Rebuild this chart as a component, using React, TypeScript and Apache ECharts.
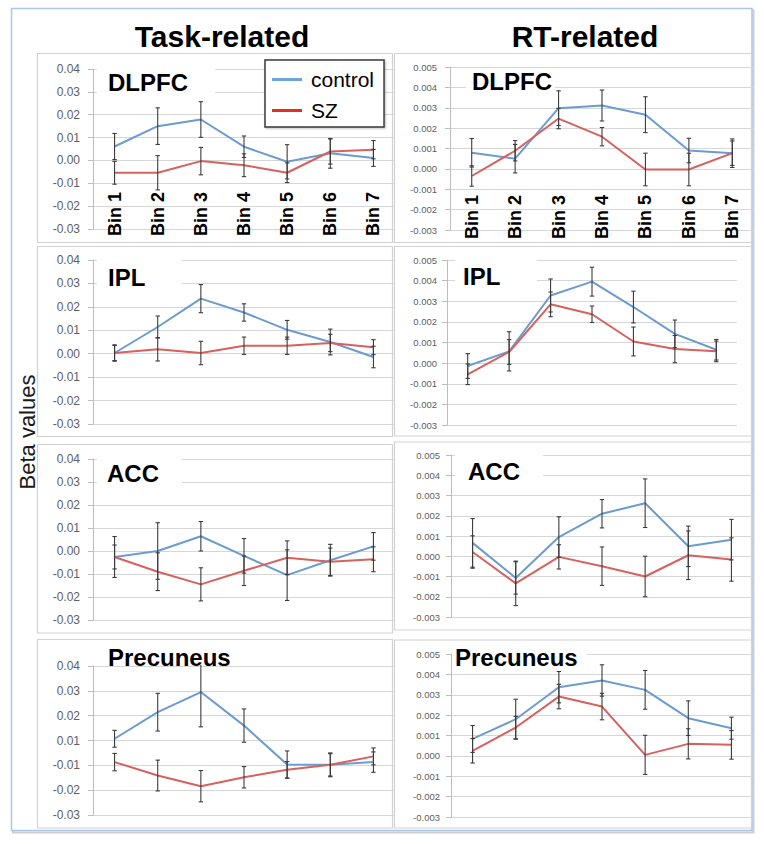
import React, { useEffect, useRef } from "react";
import * as echarts from "echarts";

// ---------- data ----------
const bins = ["Bin 1", "Bin 2", "Bin 3", "Bin 4", "Bin 5", "Bin 6", "Bin 7"];

// Task-related
const taskDlpfcControl = [0.0061, 0.015, 0.0179, 0.006, -0.0006, 0.0031, 0.0011];
const taskDlpfcControlErr = [0.0057, 0.008, 0.0078, 0.0047, 0.0075, 0.0065, 0.0037];
const taskDlpfcSZ = [-0.0054, -0.0054, -0.0003, -0.0021, -0.0054, 0.0039, 0.0047];
const taskDlpfcSZErr = [0.005, 0.0075, 0.006, 0.005, 0.0043, 0.0055, 0.004];

const taskIplControl = [0.0003, 0.0114, 0.0235, 0.0176, 0.0102, 0.005, -0.0014];
const taskIplControlErr = [0.0035, 0.0047, 0.006, 0.0037, 0.004, 0.0055, 0.0046];
const taskIplSZ = [0.0003, 0.0019, 0.0003, 0.0034, 0.0034, 0.0046, 0.0028];
const taskIplSZErr = [0.0032, 0.005, 0.005, 0.0037, 0.0037, 0.0037, 0.0032];

const taskAccControl = [-0.0026, 0.0, 0.0064, -0.0021, -0.0105, -0.004, 0.002];
const taskAccControlErr = [0.0089, 0.0123, 0.0064, 0.0075, 0.011, 0.0069, 0.006];
const taskAccSZ = [-0.0026, -0.009, -0.0145, -0.0086, -0.0029, -0.0047, -0.0036];
const taskAccSZErr = [0.0052, 0.0082, 0.0072, 0.0064, 0.0073, 0.006, 0.0054];

// Precuneus (task) values in axis units; its tick labels are printed as below
const taskPrecControl = [0.0007, 0.0114, 0.0195, 0.006, -0.0097, -0.0098, -0.0087];
const taskPrecControlErr = [0.0034, 0.0076, 0.014, 0.0067, 0.0055, 0.0048, 0.0041];
const taskPrecSZ = [-0.0087, -0.0141, -0.0184, -0.0148, -0.0118, -0.0098, -0.0064];
const taskPrecSZErr = [0.0035, 0.0062, 0.0063, 0.0043, 0.0033, 0.0045, 0.0034];
const taskPrecTickLabels = ["-0.03", "-0.02", "-0.01", "0.01", "0.02", "0.03", "0.04"];

// RT-related
const rtDlpfcControl = [0.00079, 0.0005, 0.00298, 0.00311, 0.00266, 0.0009, 0.00077];
const rtDlpfcControlErr = [0.0007, 0.0007, 0.00085, 0.00076, 0.00088, 0.0006, 0.0006];
const rtDlpfcSZ = [-0.00035, 0.00089, 0.00247, 0.00158, -0.00003, -0.00003, 0.00077];
const rtDlpfcSZErr = [0.0005, 0.0005, 0.0005, 0.00045, 0.0008, 0.0008, 0.0007];

const rtIplControl = [-0.00014, 0.00057, 0.00328, 0.00395, 0.00272, 0.00142, 0.00065];
const rtIplControlErr = [0.0006, 0.00095, 0.0008, 0.0007, 0.00077, 0.00067, 0.0005];
const rtIplSZ = [-0.00054, 0.00054, 0.00285, 0.00237, 0.00105, 0.00068, 0.00057];
const rtIplSZErr = [0.0005, 0.0006, 0.0006, 0.0004, 0.0007, 0.00066, 0.0005];

const rtAccControl = [0.00066, -0.00107, 0.00095, 0.0021, 0.00262, 0.00049, 0.00082];
const rtAccControlErr = [0.0012, 0.0008, 0.001, 0.0007, 0.0012, 0.001, 0.001];
const rtAccSZ = [0.00021, -0.00134, -0.00003, -0.00049, -0.001, 0.00005, -0.00016];
const rtAccSZErr = [0.0008, 0.0011, 0.0006, 0.00095, 0.001, 0.0012, 0.00107];

const rtPrecControl = [0.00083, 0.0018, 0.00337, 0.0037, 0.00324, 0.00185, 0.00136];
const rtPrecControlErr = [0.00066, 0.00098, 0.00077, 0.00077, 0.00095, 0.00085, 0.00054];
const rtPrecSZ = [0.00025, 0.00139, 0.00291, 0.00242, 0.00005, 0.00059, 0.00054];
const rtPrecSZErr = [0.0006, 0.00055, 0.0006, 0.00065, 0.00096, 0.00074, 0.0007];

const columnTitles = ["Task-related", "RT-related"];
const groupNames = ["control", "SZ"];
const yAxisTitle = "Beta values";

// ---------- styles ----------
const FONT = "'Liberation Sans', Arial, sans-serif";
const CONTROL_COLOR = "#6b9bd1";
const SZ_COLOR = "#d6615e";
const LEGEND_CONTROL = "#6ea5da";
const LEGEND_SZ = "#e5301f";
const GRID_COLOR = "#d6d6d6";
const AXIS_COLOR = "#bdbdbd";
const ERR_COLOR = "#3c3c3c";

type Panel = {
  title: string;
  ctrl: number[];
  ctrlErr: number[];
  sz: number[];
  szErr: number[];
  kind: "task" | "rt" | "taskPrec";
  showBins: boolean;
  grid: { left: number; top: number; width: number; height: number };
  labelMargin: number;
  binMargin: number;
  titleX: number;
  titleY: number;
  box: [number, number, number, number];
};

const panels: Panel[] = [
  { title: "DLPFC", ctrl: taskDlpfcControl, ctrlErr: taskDlpfcControlErr, sz: taskDlpfcSZ, szErr: taskDlpfcSZErr, kind: "task", showBins: true,
    grid: { left: 93, top: 69, width: 302, height: 160 }, labelMargin: 13, binMargin: -37, titleX: 108, titleY: 82, box: [97, 61, 118, 38] },
  { title: "IPL", ctrl: taskIplControl, ctrlErr: taskIplControlErr, sz: taskIplSZ, szErr: taskIplSZErr, kind: "task", showBins: false,
    grid: { left: 93, top: 260, width: 302, height: 164 }, labelMargin: 13, binMargin: 0, titleX: 108, titleY: 277, box: [97, 251, 85, 40] },
  { title: "ACC", ctrl: taskAccControl, ctrlErr: taskAccControlErr, sz: taskAccSZ, szErr: taskAccSZErr, kind: "task", showBins: false,
    grid: { left: 93, top: 459, width: 302, height: 161 }, labelMargin: 13, binMargin: 0, titleX: 107, titleY: 473, box: [97, 450, 85, 40] },
  { title: "Precuneus", ctrl: taskPrecControl, ctrlErr: taskPrecControlErr, sz: taskPrecSZ, szErr: taskPrecSZErr, kind: "taskPrec", showBins: false,
    grid: { left: 93, top: 666, width: 302, height: 149 }, labelMargin: 13, binMargin: 0, titleX: 108, titleY: 657, box: [100, 644, 140, 21] },
  { title: "DLPFC", ctrl: rtDlpfcControl, ctrlErr: rtDlpfcControlErr, sz: rtDlpfcSZ, szErr: rtDlpfcSZErr, kind: "rt", showBins: true,
    grid: { left: 450, top: 67, width: 304, height: 163 }, labelMargin: 13, binMargin: -35, titleX: 472, titleY: 81, box: [466, 71, 89, 29] },
  { title: "IPL", ctrl: rtIplControl, ctrlErr: rtIplControlErr, sz: rtIplSZ, szErr: rtIplSZErr, kind: "rt", showBins: false,
    grid: { left: 447, top: 260, width: 290, height: 165 }, labelMargin: 10, binMargin: 0, titleX: 463, titleY: 276, box: [455, 250, 82, 43] },
  { title: "ACC", ctrl: rtAccControl, ctrlErr: rtAccControlErr, sz: rtAccSZ, szErr: rtAccSZErr, kind: "rt", showBins: false,
    grid: { left: 451, top: 455, width: 302, height: 162 }, labelMargin: 11, binMargin: 0, titleX: 468, titleY: 471, box: [455, 447, 88, 38] },
  { title: "Precuneus", ctrl: rtPrecControl, ctrlErr: rtPrecControlErr, sz: rtPrecSZ, szErr: rtPrecSZErr, kind: "rt", showBins: false,
    grid: { left: 451, top: 654, width: 302, height: 163 }, labelMargin: 11, binMargin: 0, titleX: 455, titleY: 657, box: [452, 645, 135, 22] },
];

const panelFrames: [number, number, number, number][] = [
  [37.5, 53.5, 355, 189],
  [37.5, 246.5, 355, 190],
  [37.5, 444.5, 355, 188.5],
  [37.5, 639.5, 355, 188.5],
  [394.5, 53.5, 357, 189],
  [394.5, 246.5, 357, 189.5],
  [394.5, 442, 357, 188],
  [394.5, 640, 357, 188],
];

function errRender(params: any, api: any) {
  const x = api.value(0);
  const lo = api.coord([x, api.value(1)]);
  const hi = api.coord([x, api.value(2)]);
  const c = 2.2;
  const style = { stroke: ERR_COLOR, lineWidth: 1.1 };
  return {
    type: "group",
    children: [
      { type: "line", shape: { x1: lo[0], y1: lo[1], x2: hi[0], y2: hi[1] }, style },
      { type: "line", shape: { x1: hi[0] - c, y1: hi[1], x2: hi[0] + c, y2: hi[1] }, style },
      { type: "line", shape: { x1: lo[0] - c, y1: lo[1], x2: lo[0] + c, y2: lo[1] }, style },
    ],
  };
}

function fmt(v: number, d: number) {
  if (Math.abs(v) < 1e-9) return (0).toFixed(d);
  return v.toFixed(d);
}

function buildOption() {
  const grid: any[] = [];
  const xAxis: any[] = [];
  const yAxis: any[] = [];
  const series: any[] = [];
  const graphic: any[] = [];

  panels.forEach((p, i) => {
    grid.push({ ...p.grid, containLabel: false });
    xAxis.push({
      type: "category",
      gridIndex: i,
      data: bins,
      boundaryGap: true,
      axisLine: { show: false },
      axisTick: { show: false },
      splitLine: { show: false },
      axisLabel: {
        show: p.showBins,
        rotate: 90,
        margin: p.binMargin,
        interval: 0,
        fontFamily: FONT,
        fontWeight: "bold",
        fontSize: 18,
        color: "#000",
      },
    });
    let min = -0.03, max = 0.04, interval = 0.01, fs = 12, formatter: any;
    if (p.kind === "rt") {
      min = -0.003; max = 0.005; interval = 0.001; fs = 9.5;
      formatter = (v: number) => fmt(v, 3);
    } else if (p.kind === "taskPrec") {
      min = -0.03; max = 0.03; interval = 0.01;
      formatter = (v: number) => taskPrecTickLabels[Math.round((v - min) / interval)] ?? "";
    } else {
      formatter = (v: number) => fmt(v, 2);
    }
    yAxis.push({
      type: "value",
      gridIndex: i,
      min,
      max,
      interval,
      axisLine: { show: true, lineStyle: { color: AXIS_COLOR, width: 1 } },
      axisTick: { show: true, length: 5, lineStyle: { color: AXIS_COLOR } },
      splitLine: { show: true, lineStyle: { color: GRID_COLOR, width: 1.2 } },
      axisLabel: { margin: p.labelMargin, fontFamily: FONT, fontSize: fs, color: "#5e5e5e", formatter },
    });
    const groups = [
      { name: groupNames[0], vals: p.ctrl, err: p.ctrlErr, color: CONTROL_COLOR },
      { name: groupNames[1], vals: p.sz, err: p.szErr, color: SZ_COLOR },
    ];
    groups.forEach((g) => {
      series.push({
        type: "line",
        name: g.name,
        xAxisIndex: i,
        yAxisIndex: i,
        data: g.vals,
        symbol: "none",
        lineStyle: { color: g.color, width: 2 },
        itemStyle: { color: g.color },
        z: 3,
      });
    });
    groups.forEach((g) => {
      series.push({
        type: "custom",
        name: g.name + " error",
        xAxisIndex: i,
        yAxisIndex: i,
        data: g.vals.map((v, j) => [j, v - g.err[j], v + g.err[j]]),
        encode: { x: 0, y: [1, 2] },
        renderItem: errRender,
        z: 4,
        silent: true,
      });
    });
    // title background box and title
    const [bx, by, bw, bh] = p.box;
    graphic.push({ type: "rect", z: 50, shape: { x: bx, y: by, width: bw, height: bh }, style: { fill: "#fff" } });
    graphic.push({
      type: "text",
      z: 51,
      x: p.titleX,
      y: p.titleY,
      style: {
        text: p.title,
        fill: "#000",
        font: `bold 24px ${FONT}`,
        textAlign: "left",
        textVerticalAlign: "middle",
        align: "left",
        verticalAlign: "middle",
      },
    });
  });

  // outer frame with shadow
  graphic.unshift({ type: "rect", z: -2, shape: { x: 13, y: 10.5, width: 740.5, height: 822 }, style: { fill: "none", stroke: "#cfcfcf", lineWidth: 2 } });
  graphic.unshift({ type: "rect", z: -1, shape: { x: 11.5, y: 8.5, width: 740.5, height: 822 }, style: { fill: "#fff", stroke: "#a9c6e8", lineWidth: 1.5 } });
  panelFrames.forEach(([x, y, w, h]) => {
    graphic.push({ type: "rect", z: 0, shape: { x, y, width: w, height: h }, style: { fill: "none", stroke: "#d2d2d2", lineWidth: 1.2 } });
  });
  // column titles
  [222, 585].forEach((cx, k) => {
    graphic.push({
      type: "text",
      z: 60,
      x: cx,
      y: 36,
      style: {
        text: columnTitles[k],
        fill: "#000",
        font: `bold 30px ${FONT}`,
        textAlign: "center",
        textVerticalAlign: "middle",
        align: "center",
        verticalAlign: "middle",
      },
    });
  });
  // y axis title
  graphic.push({
    type: "text",
    z: 60,
    x: 27,
    y: 432,
    rotation: Math.PI / 2,
    style: {
      text: yAxisTitle,
      fill: "#1a1a1a",
      font: `22px ${FONT}`,
      textAlign: "center",
      textVerticalAlign: "middle",
      align: "center",
      verticalAlign: "middle",
    },
  });

  return {
    animation: false,
    backgroundColor: "#fff",
    grid,
    xAxis,
    yAxis,
    series,
    graphic,
    legend: {
      orient: "vertical",
      left: 265,
      top: 60,
      padding: [9, 10, 6, 7],
      itemGap: 10,
      itemWidth: 30,
      itemHeight: 3,
      icon: "rect",
      backgroundColor: "#fff",
      borderColor: "#3a3a3a",
      borderWidth: 1.5,
      borderRadius: 0,
      shadowColor: "rgba(0,0,0,0.25)",
      shadowBlur: 2,
      shadowOffsetX: 1,
      shadowOffsetY: 1,
      selectedMode: false,
      textStyle: { fontFamily: FONT, fontSize: 21, color: "#000", padding: [0, 0, 0, 4] },
      data: [
        { name: groupNames[0], icon: "rect", itemStyle: { color: LEGEND_CONTROL, borderWidth: 0 } },
        { name: groupNames[1], icon: "rect", itemStyle: { color: LEGEND_SZ, borderWidth: 0 } },
      ],
      z: 20,
    },
  };
}

export default function App() {
  const ref = useRef<HTMLDivElement>(null);
  useEffect(() => {
    const chart = echarts.init(ref.current as HTMLDivElement, null, { renderer: "svg" });
    chart.setOption(buildOption() as any);
    return () => chart.dispose();
  }, []);
  return (
    <div
      ref={ref}
      style={{ position: "absolute", left: 0, top: 0, width: 764, height: 844, background: "#fff" }}
    />
  );
}
